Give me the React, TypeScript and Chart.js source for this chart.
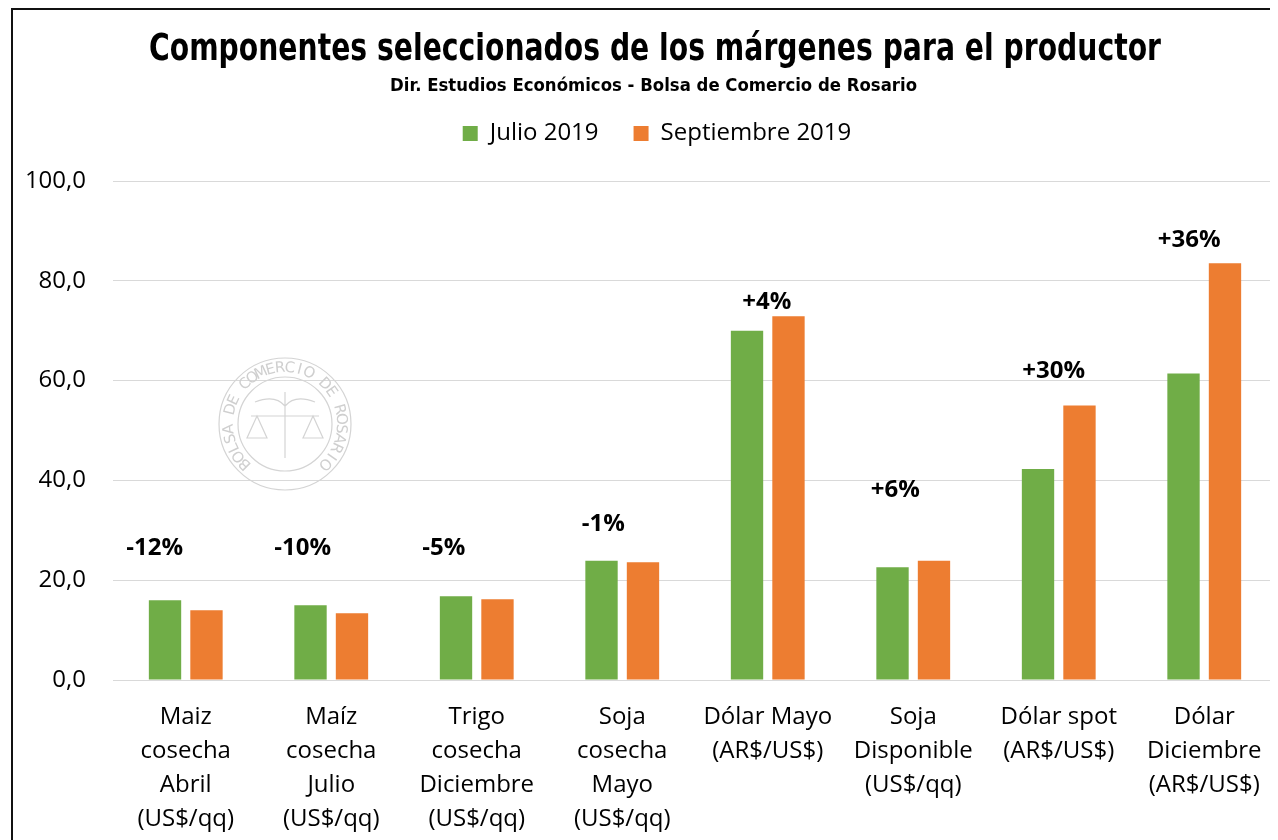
import React, { useEffect, useRef } from "react";
import { Chart, registerables, layouts } from "chart.js";

Chart.register(...registerables);

// ---------- data ----------
const categories: string[][] = [
  ["Maiz", "cosecha", "Abril", "(US$/qq)"],
  ["Maíz", "cosecha", "Julio", "(US$/qq)"],
  ["Trigo", "cosecha", "Diciembre", "(US$/qq)"],
  ["Soja", "cosecha", "Mayo", "(US$/qq)"],
  ["Dólar Mayo", "(AR$/US$)"],
  ["Soja", "Disponible", "(US$/qq)"],
  ["Dólar spot", "(AR$/US$)"],
  ["Dólar", "Diciembre", "(AR$/US$)"],
];
const seriesNames = ["Julio 2019", "Septiembre 2019"];
const julio2019 = [16.0, 15.0, 16.8, 23.9, 70.0, 22.6, 42.3, 61.4];
const septiembre2019 = [14.0, 13.4, 16.2, 23.6, 72.9, 23.9, 55.0, 83.5];
const changeLabels = ["-12%", "-10%", "-5%", "-1%", "+4%", "+6%", "+30%", "+36%"];
// value (y-axis units) at which each change label sits
const changeLabelLevel = [26.5, 26.5, 26.5, 31.3, 75.8, 38.1, 61.8, 88.2];
const yTickValues = [0, 20, 40, 60, 80, 100];

const TITLE = "Componentes seleccionados de los márgenes para el productor";
const SUBTITLE = "Dir. Estudios Económicos - Bolsa de Comercio de Rosario";

// ---------- styles ----------
const GREEN = "#70AD47";
const ORANGE = "#ED7D31";
const BODY_FONT = "'Open Sans', 'Noto Sans', sans-serif";
const HEAD_FONT = "'DejaVu Sans', sans-serif";
// horizontal nudge (px) of each change label from its category centre
const changeLabelShift = [-31, -28.5, -33, -19, -1, -18, -5, -15];

function makeBox(weight: number, height: number, drawFn?: (box: any, ctx: CanvasRenderingContext2D) => void, chart?: any) {
  const box: any = {
    position: "top",
    weight,
    fullSize: true,
    options: { stackWeight: 1 },
    width: 0,
    height: 0,
    left: 0,
    top: 0,
    right: 0,
    bottom: 0,
    isHorizontal() {
      return true;
    },
    update(maxWidth: number) {
      this.width = maxWidth;
      this.height = height;
    },
    draw() {
      if (drawFn && chart) drawFn(box, chart.ctx);
    },
  };
  return box;
}

function drawCondensed(ctx: CanvasRenderingContext2D, text: string, font: string, cx: number, baseline: number, targetWidth: number) {
  ctx.save();
  ctx.font = font;
  ctx.fillStyle = "#000";
  ctx.textAlign = "center";
  ctx.textBaseline = "alphabetic";
  const w = ctx.measureText(text).width;
  const sx = targetWidth / w;
  ctx.translate(cx, baseline);
  ctx.scale(sx, 1);
  ctx.fillText(text, 0, 0);
  ctx.restore();
}

const headerPlugin = {
  id: "header",
  beforeInit(chart: any) {
    const header = makeBox(
      3000,
      76.5,
      (box, ctx) => {
        const cx = (box.left + box.right) / 2 + 10;
        drawCondensed(ctx, TITLE, `bold 38px ${HEAD_FONT}`, cx, box.top + 50, 1012);
        drawCondensed(ctx, SUBTITLE, `bold 18px ${HEAD_FONT}`, cx - 1.5, box.top + 81, 527);
      },
      chart
    );
    layouts.addBox(chart, header);
    layouts.addBox(chart, makeBox(500, 25.5));
  },
  afterLayout(chart: any) {
    // centre the legend on the frame rather than on the padded canvas
    if (chart.legend) chart.legend.left += 24;
  },
};

const watermarkPlugin = {
  id: "watermark",
  beforeDatasetsDraw(chart: any) {
    const ctx = chart.ctx;
    const cx = 272;
    const cy = 414;
    ctx.save();
    ctx.strokeStyle = "#d4d4d4";
    ctx.fillStyle = "#cfcfcf";
    ctx.lineWidth = 1.2;
    ctx.beginPath();
    ctx.arc(cx, cy, 66, 0, Math.PI * 2);
    ctx.stroke();
    ctx.beginPath();
    ctx.arc(cx, cy, 47, 0, Math.PI * 2);
    ctx.stroke();
    const txt = "BOLSA DE COMERCIO DE ROSARIO";
    ctx.font = "15px 'DejaVu Sans', sans-serif";
    ctx.textAlign = "center";
    ctx.textBaseline = "middle";
    const start = (135 * Math.PI) / 180;
    const end = (405 * Math.PI) / 180;
    for (let i = 0; i < txt.length; i++) {
      const a = start + ((end - start) * i) / (txt.length - 1);
      ctx.save();
      ctx.translate(cx + 56 * Math.cos(a), cy + 56 * Math.sin(a));
      ctx.rotate(a + Math.PI / 2);
      ctx.fillText(txt[i], 0, 0);
      ctx.restore();
    }
    ctx.beginPath();
    ctx.moveTo(cx, cy - 32);
    ctx.lineTo(cx, cy + 34);
    ctx.moveTo(cx - 34, cy - 8);
    ctx.lineTo(cx + 34, cy - 8);
    ctx.moveTo(cx - 28, cy - 8);
    ctx.lineTo(cx - 38, cy + 14);
    ctx.lineTo(cx - 18, cy + 14);
    ctx.closePath();
    ctx.moveTo(cx + 28, cy - 8);
    ctx.lineTo(cx + 18, cy + 14);
    ctx.lineTo(cx + 38, cy + 14);
    ctx.closePath();
    ctx.moveTo(cx - 30, cy - 22);
    ctx.quadraticCurveTo(cx - 10, cy - 30, cx, cy - 18);
    ctx.quadraticCurveTo(cx + 10, cy - 30, cx + 30, cy - 22);
    ctx.stroke();
    ctx.restore();
  },
};

const changeLabelPlugin = {
  id: "changeLabels",
  afterDatasetsDraw(chart: any) {
    const ctx = chart.ctx;
    const xs = chart.scales.x;
    const ys = chart.scales.y;
    ctx.save();
    ctx.font = `bold 24px ${BODY_FONT}`;
    ctx.fillStyle = "#000";
    ctx.textAlign = "center";
    ctx.textBaseline = "middle";
    changeLabels.forEach((t, i) => {
      const x = xs.getPixelForValue(i) + changeLabelShift[i];
      const y = ys.getPixelForValue(changeLabelLevel[i]);
      ctx.fillText(t, x, y);
    });
    ctx.restore();
  },
};

export default function App() {
  const ref = useRef<HTMLCanvasElement>(null);

  useEffect(() => {
    const canvas = ref.current;
    if (!canvas) return;
    const chart = new Chart(canvas, {
      type: "bar",
      data: {
        labels: categories,
        datasets: [
          {
            label: seriesNames[0],
            data: julio2019,
            backgroundColor: GREEN,
            borderWidth: 0,
            categoryPercentage: 0.57,
            barPercentage: 0.78,
          },
          {
            label: seriesNames[1],
            data: septiembre2019,
            backgroundColor: ORANGE,
            borderWidth: 0,
            categoryPercentage: 0.57,
            barPercentage: 0.78,
          },
        ],
      },
      options: {
        animation: false,
        responsive: false,
        layout: { padding: { left: 0, right: 20, top: 0, bottom: 0 } },
        plugins: {
          title: { display: false },
          subtitle: { display: false },
          legend: {
            display: true,
            position: "top",
            labels: {
              boxWidth: 15,
              boxHeight: 15,
              padding: 35,
              color: "#000",
              font: { family: BODY_FONT, size: 24 },
            },
          },
          tooltip: { enabled: false },
        },
        scales: {
          x: {
            grid: { display: false, drawTicks: false },
            border: { display: false },
            ticks: {
              color: "#000",
              padding: 20,
              maxRotation: 0,
              autoSkip: false,
              font: { family: BODY_FONT, size: 24, lineHeight: 34 / 24 },
            },
            afterFit(s: any) {
              s.height = 160;
            },
          },
          y: {
            min: yTickValues[0],
            max: yTickValues[yTickValues.length - 1],
            ticks: {
              stepSize: yTickValues[1] - yTickValues[0],
              padding: 27,
              color: "#000",
              font: { family: BODY_FONT, size: 24 },
              callback: (v: any) => Number(v).toFixed(1).replace(".", ","),
            },
            grid: { color: "#d9d9d9", lineWidth: 1, drawTicks: false },
            border: { display: false },
            afterFit(s: any) {
              s.width = 100;
            },
          },
        },
      },
      plugins: [headerPlugin, watermarkPlugin, changeLabelPlugin],
    } as any);
    return () => chart.destroy();
  }, []);

  return (
    <div style={{ position: "relative", width: 1270, height: 832, overflow: "hidden", background: "#fff" }}>
      <div
        style={{
          position: "absolute",
          left: 3,
          top: 0,
          width: 1400,
          height: 1000,
          borderLeft: "2px solid #111",
          borderTop: "2px solid #111",
          background: "#fff",
        }}
      >
        <canvas ref={ref} width={1284} height={830} style={{ display: "block" }} />
      </div>
    </div>
  );
}
